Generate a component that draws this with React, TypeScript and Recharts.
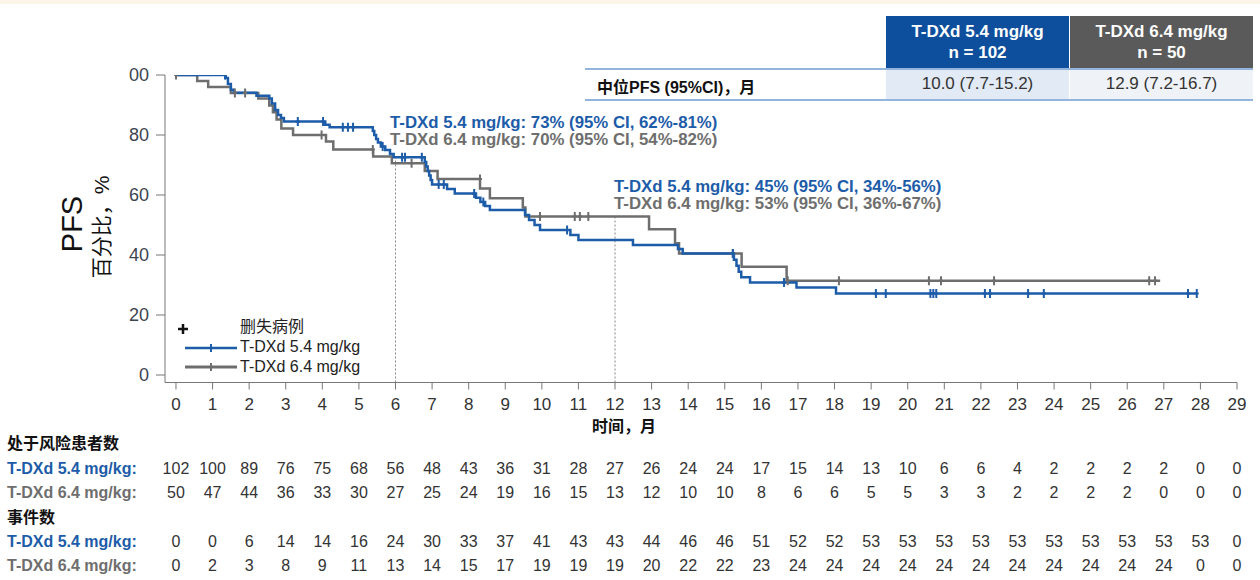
import { ComposedChart, Line, Scatter, XAxis, YAxis, ReferenceLine } from "recharts";

// KM step points [months, PFS %]
const pfs54 = [
  [0, 100], [1.36, 99], [1.42, 97], [1.5, 95.1], [1.58, 94.1], [2.2, 93.1], [2.55, 92.2],
  [2.62, 90.5], [2.71, 88.3], [2.79, 86.7], [2.87, 85.7], [2.95, 84.5], [4.08, 83.4],
  [4.2, 82.6], [5.38, 81.3], [5.42, 80], [5.47, 78.7], [5.52, 77.5], [5.6, 76.2],
  [5.72, 75], [5.85, 73.7], [5.95, 72.6], [6.8, 71], [6.84, 69.5], [6.88, 68],
  [6.92, 66.5], [6.96, 65], [7.0, 63.5], [7.41, 62], [7.62, 60.5], [8.2, 59.1],
  [8.32, 57.7], [8.45, 56.3], [8.58, 55], [9.54, 53.3], [9.65, 51.7], [9.8, 50],
  [9.95, 48.3], [10.78, 46.7], [11.0, 45], [12.49, 43.3], [13.72, 42], [13.85, 40.5],
  [15.25, 38.4], [15.32, 36.4], [15.38, 34.4], [15.45, 32.6], [15.69, 30.8],
  [16.96, 29.2], [18.04, 27.2], [27.9, 27.2],
];
const pfs64 = [
  [0, 100], [0.58, 98], [0.88, 96], [1.5, 94], [2.25, 92.2], [2.55, 89.8], [2.65, 87.6],
  [2.75, 85.2], [2.88, 82.2], [3.2, 80], [4.1, 77.8], [4.3, 75.2], [5.39, 72.8],
  [5.9, 70.6], [6.8, 68], [7.15, 65.3], [8.31, 62.2], [8.58, 58.9], [9.48, 55.8],
  [9.55, 52.8], [12.93, 48.6], [13.64, 43.9], [13.75, 40.5], [15.46, 36.1],
  [16.69, 31.4], [26.9, 31.4],
];
// censored cases
const cens54 = [
  [1.34, 100], [3.33, 84.5], [4.02, 84.5], [4.56, 82.6], [4.7, 82.6], [4.84, 82.6],
  [5.65, 76.2], [6.18, 72.6], [6.26, 72.6], [6.72, 72.6], [7.18, 63.5], [7.32, 63.5],
  [8.15, 60.5], [8.4, 57.7], [10.69, 48.3], [15.22, 40.5], [16.62, 30.8], [19.13, 27.2],
  [19.4, 27.2], [20.62, 27.2], [20.7, 27.2], [20.78, 27.2], [22.11, 27.2], [22.25, 27.2],
  [23.29, 27.2], [23.72, 27.2], [27.66, 27.2], [27.9, 27.2],
];
const cens64 = [
  [0, 100], [1.61, 94], [1.89, 94], [3.98, 80], [5.38, 75.2], [6.44, 70.6], [8.31, 65.3],
  [9.95, 52.8], [10.9, 52.8], [11.04, 52.8], [11.27, 52.8], [15.22, 40.5], [16.72, 31.4],
  [18.12, 31.4], [20.58, 31.4], [20.91, 31.4], [22.36, 31.4], [26.6, 31.4], [26.76, 31.4],
];
// landmark lines [month, top of dotted line %]
const landmarks = [[6, 72.6], [12, 52.8]];

const months = Array.from({ length: 30 }, (_, i) => i);
const yTicks = [0, 20, 40, 60, 80, 100];

const atRisk54 = [102, 100, 89, 76, 75, 68, 56, 48, 43, 36, 31, 28, 27, 26, 24, 24, 17, 15, 14, 13, 10, 6, 6, 4, 2, 2, 2, 2, 0, 0];
const atRisk64 = [50, 47, 44, 36, 33, 30, 27, 25, 24, 19, 16, 15, 13, 12, 10, 10, 8, 6, 6, 5, 5, 3, 3, 2, 2, 2, 2, 0, 0, 0];
const events54 = [0, 0, 6, 14, 14, 16, 24, 30, 33, 37, 41, 43, 43, 44, 46, 46, 51, 52, 52, 53, 53, 53, 53, 53, 53, 53, 53, 53, 53, 0];
const events64 = [0, 2, 3, 8, 9, 11, 13, 14, 15, 17, 19, 19, 19, 20, 22, 22, 23, 24, 24, 24, 24, 24, 24, 24, 24, 24, 24, 24, 0, 0];

const BLUE = "#1d5ca8";
const GRAY = "#6e6e6e";
const FONT = '"Liberation Sans", Arial, "Noto Sans CJK SC", sans-serif';

const W = 1260, H = 580;
const PLOT = { left: 165, top: 75, right: 1237, bottom: 382.5 };
const X_DOMAIN = [-0.3, 29];
const Y_DOMAIN = [-2.5, 100];
const xPos = (t: number) =>
  PLOT.left + ((t - X_DOMAIN[0]) / (X_DOMAIN[1] - X_DOMAIN[0])) * (PLOT.right - PLOT.left);

const toPts = (arr: number[][]) => arr.map(([t, s]) => ({ t, s }));

const Censor = (color: string) => (props: any) => {
  const { cx, cy } = props;
  if (cx == null || cy == null) return null;
  return (
    <path d={`M${cx},${cy - 4.5}V${cy + 4.5}M${cx - 2},${cy}H${cx + 2}`} stroke={color} strokeWidth={2} />
  );
};

const YLabel = () => (
  <g>
    <text x={0} y={0} transform="translate(82,224) rotate(-90)" textAnchor="middle" fontSize={29} fill="#111" fontFamily={FONT}>PFS</text>
    <text x={0} y={0} transform="translate(109,227) rotate(-90)" textAnchor="middle" fontSize={21} fill="#111" fontFamily={FONT}>百分比，%</text>
  </g>
);

const abs = (extra: any) => ({ position: "absolute" as const, whiteSpace: "nowrap" as const, ...extra });

export default function App() {
  const rows = [
    { label: "T-DXd 5.4 mg/kg:", vals: atRisk54, color: BLUE, y: 468 },
    { label: "T-DXd 6.4 mg/kg:", vals: atRisk64, color: GRAY, y: 492 },
    { label: "T-DXd 5.4 mg/kg:", vals: events54, color: BLUE, y: 541 },
    { label: "T-DXd 6.4 mg/kg:", vals: events64, color: GRAY, y: 565 },
  ];
  return (
    <div style={{ position: "absolute", left: 0, top: 0, width: W, height: H, background: "#fff", fontFamily: FONT, overflow: "hidden" }}>
      <div style={abs({ left: 0, top: 0, width: W, height: 4, background: "#fdf4e8" })} />
      <ComposedChart
        width={W}
        height={H}
        margin={{ top: PLOT.top, right: W - PLOT.right, bottom: H - PLOT.bottom - 30, left: PLOT.left - 60 }}
      >
        <XAxis
          dataKey="t"
          type="number"
          domain={X_DOMAIN}
          ticks={months}
          interval={0}
          allowDataOverflow
          height={30}
          tickSize={7}
          tickMargin={8}
          stroke="#777"
          tick={{ fill: "#333", fontSize: 17, fontFamily: FONT }}
        />
        <YAxis
          dataKey="s"
          type="number"
          domain={Y_DOMAIN}
          ticks={yTicks}
          allowDataOverflow
          width={60}
          tickSize={9}
          tickMargin={7}
          stroke="#777"
          tickFormatter={(v: number) => (v === 100 ? "00" : String(v))}
          tick={{ fill: "#3d4450", fontSize: 18, fontFamily: FONT }}
          label={<YLabel />}
        />
        {landmarks.map(([t, top]) => (
          <ReferenceLine
            key={t}
            segment={[{ x: t, y: Y_DOMAIN[0] }, { x: t, y: top }]}
            stroke="#888"
            strokeDasharray="2 2"
          />
        ))}
        <Line data={toPts(pfs64)} dataKey="s" type="stepAfter" stroke={GRAY} strokeWidth={2.5} dot={false} isAnimationActive={false} />
        <Line data={toPts(pfs54)} dataKey="s" type="stepAfter" stroke={BLUE} strokeWidth={2.5} dot={false} isAnimationActive={false} />
        <Scatter data={toPts(cens64)} dataKey="s" shape={Censor(GRAY)} isAnimationActive={false} />
        <Scatter data={toPts(cens54)} dataKey="s" shape={Censor(BLUE)} isAnimationActive={false} />
      </ComposedChart>

      {/* landmark annotations */}
      <div style={abs({ left: 390, top: 114, fontSize: 16.8, fontWeight: 700, color: BLUE, lineHeight: "17px" })}>
        T-DXd 5.4 mg/kg: 73% (95% CI, 62%-81%)
        <div style={{ color: GRAY }}>T-DXd 6.4 mg/kg: 70% (95% CI, 54%-82%)</div>
      </div>
      <div style={abs({ left: 614, top: 178, fontSize: 16.8, fontWeight: 700, color: BLUE, lineHeight: "17px" })}>
        T-DXd 5.4 mg/kg: 45% (95% CI, 34%-56%)
        <div style={{ color: GRAY }}>T-DXd 6.4 mg/kg: 53% (95% CI, 36%-67%)</div>
      </div>

      {/* legend */}
      <svg style={abs({ left: 175, top: 318 })} width={70} height={60}>
        <path d="M8,6V16M3,11H13" stroke="#111" strokeWidth={2.5} />
        <path d="M10,30H62" stroke={BLUE} strokeWidth={2.5} />
        <path d="M36,26V34" stroke={BLUE} strokeWidth={2} />
        <path d="M10,49H62" stroke={GRAY} strokeWidth={3} />
        <path d="M36,45V53" stroke={GRAY} strokeWidth={2} />
      </svg>
      <div style={abs({ left: 240, top: 317, fontSize: 16, color: "#222", lineHeight: "20px" })}>
        <div>删失病例</div>
        <div>T-DXd 5.4 mg/kg</div>
        <div>T-DXd 6.4 mg/kg</div>
      </div>

      <div style={abs({ left: 624, top: 413, transform: "translateX(-50%)", fontSize: 16, fontWeight: 700, color: "#111" })}>时间，月</div>

      {/* summary table */}
      <div style={abs({ left: 886, top: 16, width: 183, height: 52, background: "#0d4f9c", color: "#fff", fontSize: 17, fontWeight: 700, textAlign: "center", lineHeight: "21px", paddingTop: 5, boxSizing: "border-box" })}>
        T-DXd 5.4 mg/kg<br />n = 102
      </div>
      <div style={abs({ left: 1070, top: 16, width: 183, height: 52, background: "#5a5a5a", color: "#fff", fontSize: 17, fontWeight: 700, textAlign: "center", lineHeight: "21px", paddingTop: 5, boxSizing: "border-box" })}>
        T-DXd 6.4 mg/kg<br />n = 50
      </div>
      <div style={abs({ left: 585, top: 68, width: 668, height: 2, background: "#93b5dd" })} />
      <div style={abs({ left: 886, top: 70, width: 183, height: 29, background: "#e2eaf5" })} />
      <div style={abs({ left: 1070, top: 70, width: 183, height: 29, background: "#eff2f7" })} />
      <div style={abs({ left: 597, top: 74, fontSize: 16, fontWeight: 700, color: "#111" })}>中位PFS (95%CI)，月</div>
      <div style={abs({ left: 886, top: 74, width: 183, textAlign: "center", fontSize: 17, color: "#333" })}>10.0 (7.7-15.2)</div>
      <div style={abs({ left: 1070, top: 74, width: 183, textAlign: "center", fontSize: 17, color: "#333" })}>12.9 (7.2-16.7)</div>
      <div style={abs({ left: 585, top: 99, width: 668, height: 2, background: "#93b5dd" })} />

      {/* risk table */}
      <div style={abs({ left: 7, top: 430, fontSize: 16, fontWeight: 700, color: "#111" })}>处于风险患者数</div>
      <div style={abs({ left: 7, top: 504, fontSize: 16, fontWeight: 700, color: "#111" })}>事件数</div>
      {rows.map((r, ri) => (
        <div key={ri}>
          <div style={abs({ left: 7, top: r.y - 8, fontSize: 16, fontWeight: 700, color: r.color })}>{r.label}</div>
          {r.vals.map((v, i) => (
            <div key={i} style={abs({ left: xPos(months[i]), top: r.y - 8, transform: "translateX(-50%)", fontSize: 16, color: "#333" })}>{v}</div>
          ))}
        </div>
      ))}
    </div>
  );
}
